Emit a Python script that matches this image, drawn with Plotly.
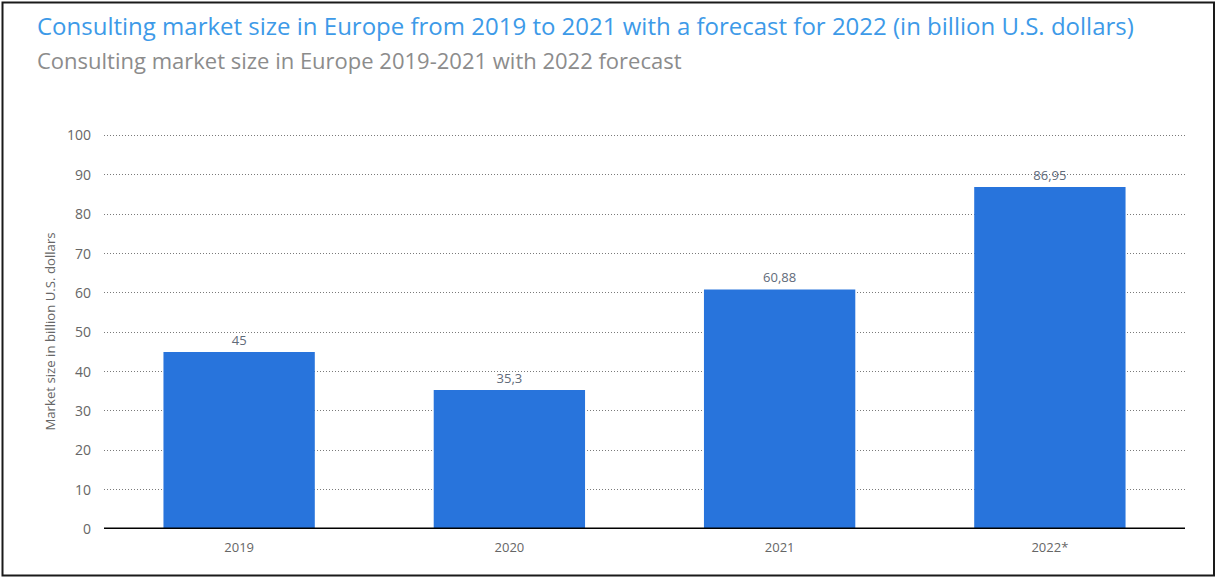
import plotly.graph_objects as go

categories = ["2019", "2020", "2021", "2022*"]
values = [45, 35.3, 60.88, 86.95]
labels = [f"{v:g}".replace(".", ",") for v in values]
y_ticks = [0, 10, 20, 30, 40, 50, 60, 70, 80, 90, 100]

W, H = 1216, 578
L, R, T, B = 104, 31, 134, 49
pw, ph = W - L - R, H - T - B

def px_x(x):
    return (x - L) / pw

def px_y(y):
    return (H - B - y) / ph

fig = go.Figure()
fig.add_trace(go.Bar(
    x=categories, y=values, text=labels, textposition="outside",
    textfont=dict(color="#5f6b7a", size=13, family="Open Sans"),
    marker=dict(color="#2874dc", line=dict(width=0)),
    width=0.56, cliponaxis=False,
))

fig.update_layout(
    width=W, height=H,
    margin=dict(l=L, r=R, t=T, b=B),
    paper_bgcolor="white", plot_bgcolor="white",
    font=dict(family="Open Sans", color="#666666"),
    showlegend=False,
    bargap=0.44,
    xaxis=dict(
        showgrid=False, showline=False, zeroline=False,
        tickfont=dict(size=13, color="#666666"), ticks="", ticklabelstandoff=9,
    ),
    yaxis=dict(
        range=[0, 100.4], tickvals=y_ticks,
        showgrid=True, gridcolor="#7a7a7a", griddash="1px,2px", gridwidth=1,
        zeroline=False, showline=False,
        tickfont=dict(size=14, color="#666666"), ticks="", ticklabelstandoff=12,
        title=dict(text="Market size in billion U.S. dollars",
                   font=dict(size=13.2, color="#666666"), standoff=8),
    ),
)

# baseline
fig.add_shape(type="line", xref="paper", yref="y", x0=0, x1=1, y0=0, y1=0,
              line=dict(color="black", width=3), layer="above")

# outer border
fig.add_shape(type="rect", xref="paper", yref="paper",
              x0=px_x(2.5), x1=px_x(1214), y0=px_y(2.5), y1=px_y(575.5),
              line=dict(color="#1a1a1a", width=2), layer="above")

fig.add_annotation(text="Consulting market size in Europe from 2019 to 2021 with a forecast for 2022 (in billion U.S. dollars)",
                   xref="paper", yref="paper", x=px_x(35), y=px_y(25),
                   xanchor="left", yanchor="middle", showarrow=False,
                   font=dict(size=24, color="#3d9ae8", family="Open Sans"))
fig.add_annotation(text="Consulting market size in Europe 2019-2021 with 2022 forecast",
                   xref="paper", yref="paper", x=px_x(35), y=px_y(60),
                   xanchor="left", yanchor="middle", showarrow=False,
                   font=dict(size=22, color="#8c8c8c", family="Open Sans"))

fig.write_html("out.html")
